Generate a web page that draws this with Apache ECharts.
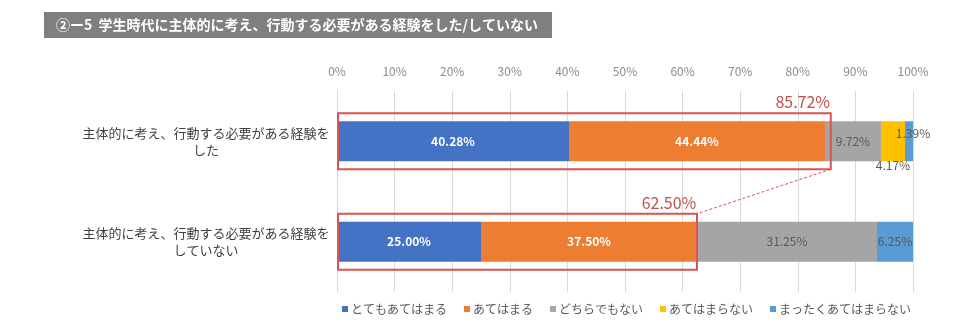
<!DOCTYPE html>
<html><head><meta charset="utf-8">
<script src="https://cdn.jsdelivr.net/npm/echarts@6/dist/echarts.min.js"></script>
<style>html,body{margin:0;padding:0;background:#fff}#c{width:960px;height:336px}</style>
</head><body><div id="c"></div>
<script>
const titleText = '②ー5  学生時代に主体的に考え、行動する必要がある経験をした/していない';
const categories = ['主体的に考え、行動する必要がある経験を\nした', '主体的に考え、行動する必要がある経験を\nしていない'];
const seriesNames = ['とてもあてはまる', 'あてはまる', 'どちらでもない', 'あてはまらない', 'まったくあてはまらない'];
const veryTrue = [40.28, 25.00];
const somewhatTrue = [44.44, 37.50];
const neutral = [9.72, 31.25];
const notTrue = [4.17, 0];
const notAtAll = [1.39, 6.25];
const highlightTotals = [85.72, 62.50];
const xTicks = [0, 10, 20, 30, 40, 50, 60, 70, 80, 90, 100];

const colors = ['#4472C4', '#ED7D31', '#A5A5A5', '#FFC000', '#5B9BD5'];
const values = [veryTrue, somewhatTrue, neutral, notTrue, notAtAll];
const fmt = p => p.value > 0 ? p.value.toFixed(2) + '%' : '';
const labelStyles = [
  {show: true, color: '#fff', fontWeight: 'bold', fontSize: 12, formatter: fmt},
  {show: true, color: '#fff', fontWeight: 'bold', fontSize: 12, formatter: fmt},
  {show: true, color: '#595959', fontSize: 12, formatter: fmt},
  {show: true, color: '#595959', fontSize: 12, position: 'bottom', distance: -2, formatter: fmt},
  {show: true, color: '#595959', fontSize: 12, formatter: fmt}
];
const series = values.map((arr, i) => ({
  name: seriesNames[i], type: 'bar', stack: 'total', barWidth: 40,
  itemStyle: {color: colors[i]},
  label: labelStyles[i],
  data: arr.map((v, j) => {
    if (i === 4 && j === 0) return {value: v, label: {position: 'inside', offset: [4, -8]}};
    return v;
  })
}));

series.push({
  type: 'custom', name: 'box', silent: true, z: 10,
  data: highlightTotals.map((t, j) => [t, j]),
  renderItem: function (params, api) {
    const end = api.coord([api.value(0), api.value(1)]);
    const start = api.coord([0, api.value(1)]);
    const h = 56;
    const children = [
      {type: 'rect', shape: {x: start[0] + 1, y: end[1] - h / 2, width: end[0] - start[0] - 1, height: h},
       style: {fill: 'none', stroke: '#D9534F', lineWidth: 2}},
      {type: 'text', style: {text: api.value(0).toFixed(2) + '%', x: end[0] - 28, y: end[1] - h / 2 - 3,
        align: 'center', verticalAlign: 'bottom', fill: '#C0504D', fontSize: 16, fontFamily: 'Noto Sans CJK JP'}}
    ];
    if (params.dataIndex === 0) {
      const t2 = highlightTotals[1];
      const p2 = api.coord([t2, 1]);
      children.push({type: 'line', shape: {x1: end[0], y1: end[1] + h / 2, x2: p2[0], y2: p2[1] - h / 2},
        style: {stroke: '#D9534F', lineWidth: 1, lineDash: [3, 2]}});
    }
    return {type: 'group', children: children};
  }
});

const chart = echarts.init(document.getElementById('c'));
chart.setOption({
  animation: false,
  textStyle: {fontFamily: 'Noto Sans CJK JP'},
  title: {text: titleText, left: 44, top: 12, backgroundColor: '#7F7F7F', padding: [6, 14, 6, 12],
    textStyle: {color: '#fff', fontSize: 14, fontWeight: 'bold', fontFamily: 'Noto Sans CJK JP'}},
  legend: {bottom: 16, left: 337, width: 620, itemWidth: 6, itemHeight: 6, itemGap: 17, icon: 'rect',
    data: seriesNames, textStyle: {color: '#595959', fontSize: 12, padding: [0, 0, 0, -2]}},
  grid: {left: 337, right: 47, top: 91, bottom: 44},
  xAxis: {type: 'value', position: 'top', min: 0, max: 100, interval: 10,
    axisLabel: {color: '#8C8C8C', fontSize: 12, margin: 14, formatter: v => xTicks.includes(v) ? v + '%' : ''},
    splitLine: {lineStyle: {color: '#D9D9D9'}}, axisLine: {show: false}, axisTick: {show: false}},
  yAxis: {type: 'category', inverse: true, data: categories,
    axisLine: {lineStyle: {color: '#D9D9D9'}}, axisTick: {show: false},
    axisLabel: {color: '#404040', fontSize: 13, align: 'center', margin: 131, lineHeight: 17}},
  series: series
});
</script></body></html>
